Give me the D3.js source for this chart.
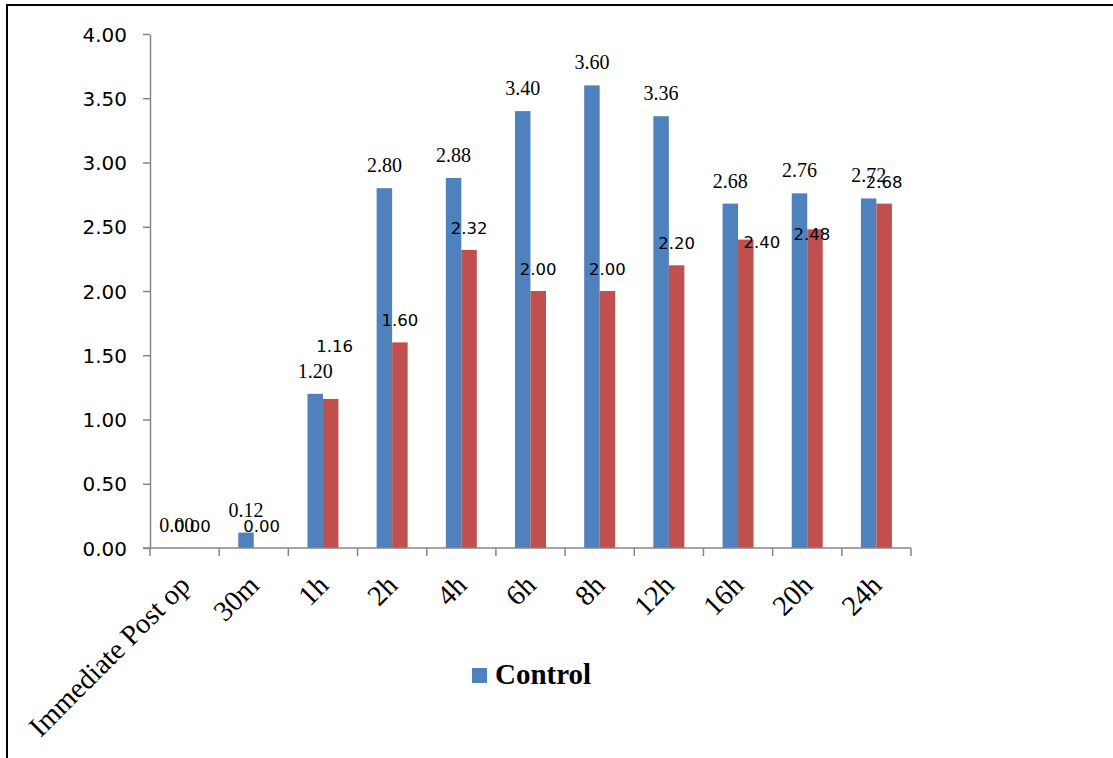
<!DOCTYPE html>
<html>
<head>
<meta charset="utf-8">
<script src="https://cdn.jsdelivr.net/npm/d3@7"></script>
<style>
  html, body { margin: 0; padding: 0; background: #ffffff; }
  svg { display: block; }
</style>
</head>
<body>
<svg id="chart" width="1113" height="758"></svg>
<script>
// Time points after surgery
const categories = ["Immediate Post op", "30m", "1h", "2h", "4h", "6h", "8h", "12h", "16h", "20h", "24h"];
// Mean scores per time point
const controlValues = [0.00, 0.12, 1.20, 2.80, 2.88, 3.40, 3.60, 3.36, 2.68, 2.76, 2.72];
const studyValues   = [0.00, 0.00, 1.16, 1.60, 2.32, 2.00, 2.00, 2.20, 2.40, 2.48, 2.68];
// Y axis tick values
const yTicks = [0, 0.5, 1, 1.5, 2, 2.5, 3, 3.5, 4];
// Hand-placed nudges (dx, dy) for the second series' value labels
const studyLabelNudge = [[0,0],[0,0],[4,-31],[0,0],[0,0],[0,0],[0,0],[0,0],[16,24],[-3,27],[0,0]];

const svg = d3.select("#chart");
const BLUE = "#4F81BD", RED = "#C0504D", AXIS = "#868686";
const SANS = "'DejaVu Sans', Verdana, sans-serif";
const SERIF = "'Liberation Serif', 'Times New Roman', serif";

// outer frame
svg.append("rect")
  .attr("x", 7).attr("y", 5)
  .attr("width", 1200).attr("height", 900)
  .attr("fill", "none").attr("stroke", "#000").attr("stroke-width", 2);

const plot = { left: 150, right: 911, top: 34, bottom: 548 };

const x = d3.scaleBand().domain(categories).range([plot.left, plot.right]).padding(0);
const y = d3.scaleLinear().domain([0, 4]).range([plot.bottom, plot.top]);
const barW = x.bandwidth() * 0.224;

// Y axis
const yAxis = svg.append("g")
  .attr("transform", `translate(${plot.left},0)`)
  .call(d3.axisLeft(y).tickValues(yTicks).tickFormat(d3.format(".2f")).tickSizeInner(7).tickSizeOuter(0).tickPadding(16));
yAxis.select(".domain").attr("stroke", AXIS).attr("stroke-width", 1.5);
yAxis.selectAll(".tick line").attr("stroke", AXIS).attr("stroke-width", 1.5);
yAxis.selectAll(".tick text")
  .attr("fill", "#000")
  .attr("dy", "0.36em")
  .style("font-family", SANS)
  .style("font-size", "20px");

// bars
const rows = categories.map((c, i) => ({ c, a: controlValues[i], b: studyValues[i], i }));

svg.append("g").selectAll("rect").data(rows).join("rect")
  .attr("x", d => x(d.c) + x.bandwidth() / 2 - barW)
  .attr("y", d => y(d.a))
  .attr("width", barW)
  .attr("height", d => y(0) - y(d.a))
  .attr("fill", BLUE);

svg.append("g").selectAll("rect").data(rows).join("rect")
  .attr("x", d => x(d.c) + x.bandwidth() / 2)
  .attr("y", d => y(d.b))
  .attr("width", barW)
  .attr("height", d => y(0) - y(d.b))
  .attr("fill", RED);

// X axis line with boundary ticks
const xAxisG = svg.append("g");
xAxisG.append("line")
  .attr("x1", plot.left - 7).attr("x2", plot.right)
  .attr("y1", plot.bottom).attr("y2", plot.bottom)
  .attr("stroke", AXIS).attr("stroke-width", 1.5);
const bounds = categories.map(c => x(c)).concat([plot.right]);
xAxisG.selectAll("line.tk").data(bounds).join("line")
  .attr("class", "tk")
  .attr("x1", d => d).attr("x2", d => d)
  .attr("y1", plot.bottom).attr("y2", plot.bottom + 8)
  .attr("stroke", AXIS).attr("stroke-width", 1.5);

// rotated category labels
xAxisG.selectAll("text").data(categories).join("text")
  .attr("transform", d => `translate(${x(d) + x.bandwidth() / 2 + 7},${plot.bottom + 39}) rotate(-45)`)
  .attr("text-anchor", "end")
  .style("font-family", SERIF)
  .style("font-size", "28.5px")
  .attr("fill", "#000")
  .text(d => d);

// value labels
const fmt = d3.format(".2f");
svg.append("g").selectAll("text").data(rows).join("text")
  .attr("x", d => x(d.c) + x.bandwidth() / 2 - barW / 2)
  .attr("y", d => y(d.a) - 16)
  .attr("text-anchor", "middle")
  .style("font-family", SERIF)
  .style("font-size", "20px")
  .attr("fill", "#000")
  .text(d => fmt(d.a));

svg.append("g").selectAll("text").data(rows).join("text")
  .attr("x", d => x(d.c) + x.bandwidth() / 2 + barW / 2 + studyLabelNudge[d.i][0])
  .attr("y", d => y(d.b) - 16 + studyLabelNudge[d.i][1])
  .attr("text-anchor", "middle")
  .style("font-family", SANS)
  .style("font-size", "16.5px")
  .attr("fill", "#000")
  .text(d => fmt(d.b));

// legend
const legend = svg.append("g").attr("transform", "translate(472,668)");
legend.append("rect").attr("width", 15).attr("height", 15).attr("fill", BLUE);
legend.append("text")
  .attr("x", 23).attr("y", 16)
  .style("font-family", SERIF)
  .style("font-size", "29px")
  .style("font-weight", "bold")
  .attr("fill", "#000")
  .text("Control");
</script>
</body>
</html>
